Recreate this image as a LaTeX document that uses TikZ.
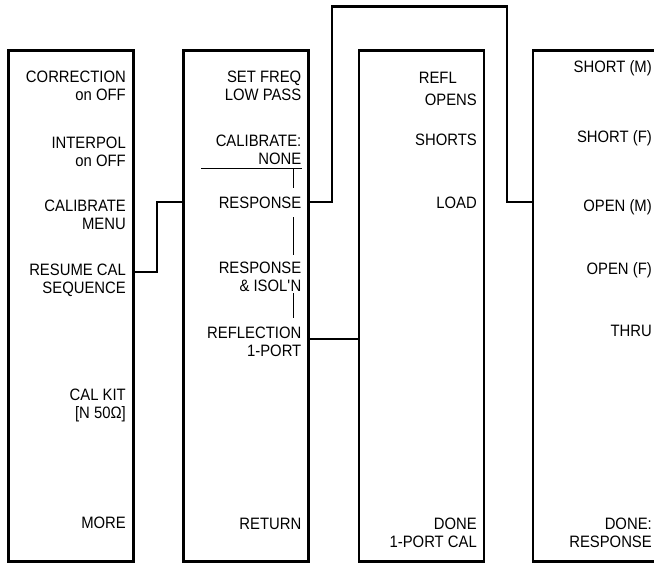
\documentclass[tikz,border=0pt]{standalone}
\usepackage{fontspec}
\setmainfont{Liberation Sans}[FakeStretch=0.9]
\begin{document}
\begin{tikzpicture}[x=1pt,y=-1pt,
  menubox/.style={draw, line width=2.7pt, minimum width=125pt, minimum height=511pt, inner sep=0pt},
  conn/.style={line width=2.5pt},
  lbl/.style={anchor=base east, align=right, inner sep=0pt, font=\fontsize{16.5}{18}\selectfont},
  selbar/.style={line width=1.2pt}]
\clip (0,0) rectangle (654,563);
\useasboundingbox (0,0) rectangle (654,563);
% menu boxes
\node[menubox] (m1) at (70.8,306) {};
\node[menubox] (m2) at (245.8,306) {};
\node[menubox] (m3) at (421.5,306) {};
\node[menubox] (m4) at (595.5,306) {};
% box 1 (anchor at baseline of the last line)
\node[lbl] (a1) at (126,100.5) {CORRECTION\\on OFF};
\node[lbl] (a2) at (126,166) {INTERPOL\\on OFF};
\node[lbl] (a3) at (126,229.3) {CALIBRATE\\MENU};
\node[lbl] (a4) at (126,293.3) {RESUME CAL\\SEQUENCE};
\node[lbl] (a5) at (126,418.3) {CAL KIT\\{[N 50Ω]}};
\node[lbl] (a6) at (126,528.3) {MORE};
% box 2
\node[lbl] (b1) at (301.5,100) {SET FREQ\\LOW PASS};
\node[lbl] (b2) at (301.5,164) {CALIBRATE:\\NONE};
\node[lbl] (b3) at (301.5,208.3) {RESPONSE};
\node[lbl] (b4) at (301.5,291.7) {RESPONSE\\\& ISOL\textquotesingle N};
\node[lbl] (b5) at (301.5,356) {REFLECTION\\1-PORT};
\node[lbl] (b6) at (301.5,529.3) {RETURN};
% box 3
\node[lbl] (c1) at (457,83.3) {REFL};
\node[lbl] (c2) at (477,105) {OPENS};
\node[lbl] (c3) at (477,145) {SHORTS};
\node[lbl] (c4) at (477,208.3) {LOAD};
\node[lbl] (c5) at (477,547.3) {DONE\\1-PORT CAL};
% box 4
\node[lbl] (d1) at (652,72.5) {SHORT (M)};
\node[lbl] (d2) at (652,142) {SHORT (F)};
\node[lbl] (d3) at (652,211) {OPEN (M)};
\node[lbl] (d4) at (652,274.5) {OPEN (F)};
\node[lbl] (d5) at (652,336.7) {THRU};
\node[lbl] (d6) at (652,547.3) {DONE:\\RESPONSE};
% selection bar in box 2
\draw[selbar] (201,168.3) -- (302,168.3);
\draw[selbar] (293.3,168.3) -- (293.3,188);
\draw[selbar] (293.3,217) -- (293.3,255);
\draw[selbar] (293.3,293) -- (293.3,318);
% connectors
\draw[conn] (m1.east |- 0,272) -- (157,272) |- (m2.west |- 0,202);
\draw[conn] (m2.east |- 0,202) -- (332,202) |- (507,6.5) |- (m4.west |- 0,202);
\draw[conn] (m2.east |- 0,339) -- (m3.west |- 0,339);
\end{tikzpicture}
\end{document}
